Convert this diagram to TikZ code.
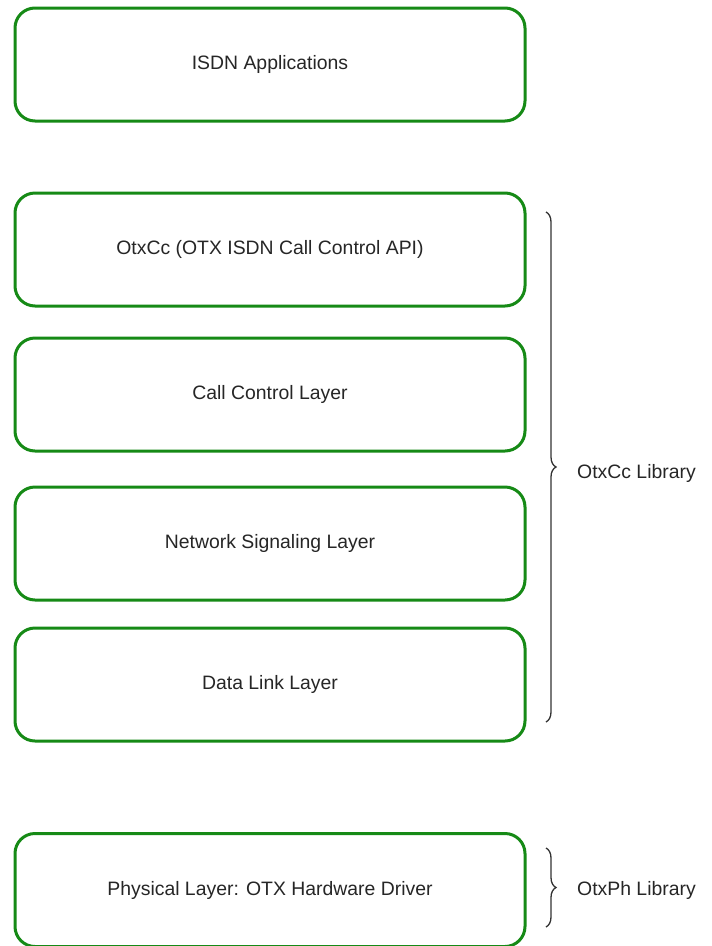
\documentclass[tikz,border=0pt]{standalone}
\usepackage{fontspec}
\setmainfont{Liberation Sans}
\usetikzlibrary{decorations.pathreplacing}
\definecolor{layergreen}{RGB}{22,138,22}
\definecolor{bracegray}{RGB}{50,50,50}
\tikzset{layer/.style={draw=layergreen,line width=3pt,rounded corners=20pt,
    minimum width=510pt,minimum height=113pt,inner sep=0pt,fill=white,
    font=\fontsize{19.4}{23}\selectfont,text=black!85},
  libbrace/.style={draw=bracegray,line width=1.3pt,decorate,
    decoration={brace,amplitude=10pt}},
  liblabel/.style={anchor=west,inner sep=0pt,
    font=\fontsize{19.4}{23}\selectfont,text=black!85}}

\begin{document}
\begin{tikzpicture}[x=1pt,y=-1pt]
  \useasboundingbox (0,0) rectangle (712,946);
  % layer stack
  \node[layer] (apps) at (270,64.5) {ISDN Applications};
  \node[layer] (api)  at (270,249.5) {OtxCc (OTX ISDN Call Control API)};
  \node[layer] (cc)   at (270,394.5) {Call Control Layer};
  \node[layer] (net)  at (270,543.5) {Network Signaling Layer};
  \node[layer] (dl)   at (270,684.5) {Data Link Layer};
  \node[layer] (phy)  at (270,890) {Physical Layer: OTX Hardware Driver};
  % library braces
  \coordinate (cctop) at (546,212);
  \coordinate (ccbot) at (546,722);
  \coordinate (phtop) at (546,848);
  \coordinate (phbot) at (546,927);
  \draw[libbrace] (cctop) -- (ccbot);
  \draw[libbrace] (phtop) -- (phbot);
  \node[liblabel] (cclib) at (577,473) {OtxCc Library};
  \node[liblabel] (phlib) at (577,890) {OtxPh Library};
\end{tikzpicture}
\end{document}
